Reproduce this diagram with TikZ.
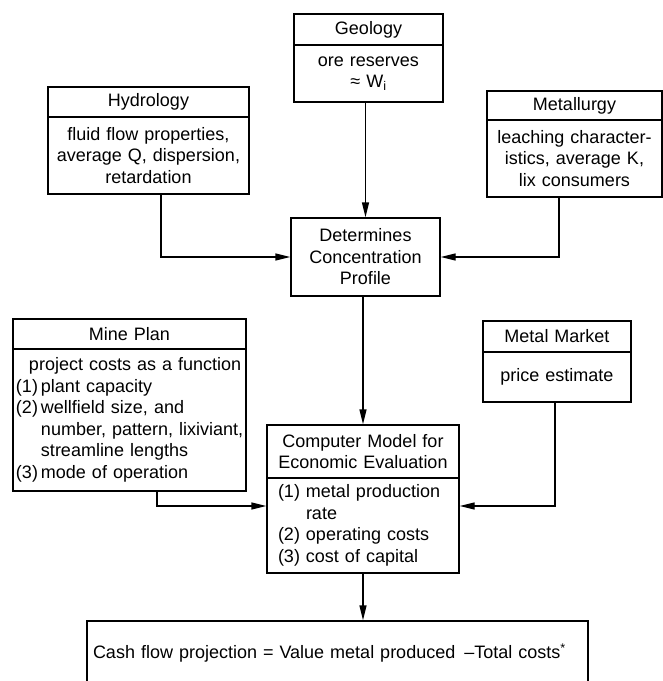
\documentclass[tikz,border=0pt]{standalone}
\usepackage{fontspec}
\setmainfont{Liberation Sans}
\usepackage{tikz}
\usetikzlibrary{positioning,arrows.meta,calc}
\newcommand{\mfFont}{\fontsize{18}{21.5}\selectfont}
\tikzset{
    mfBoxBase/.style={
        rectangle,
        draw,
        line width=1.4pt,
        inner xsep=3pt,
        inner ysep=0pt,
        font=\mfFont,
        align=center
    },
    % Box parts
    mfHead/.style={mfBoxBase},
    mfBody/.style={mfBoxBase},
    % Arrows
    mfArrowBase/.style={-{Triangle[length=15pt,width=7pt]}, line width=1.4pt}
}
\begin{document}
\begin{tikzpicture}[x=1pt,y=-1pt]
    \clip (0,0) rectangle (663,681);

    % Inputs
    \node[mfHead, text width=143pt, minimum height=31pt] (geoHead) at (368.5,29.5) {Geology};
    \node[mfBody, text width=143pt, minimum height=57pt] (geoBody) at (368.5,73.5) {ore reserves\\≈ W\textsubscript{i}\hspace*{22pt}};

    \node[mfHead, text width=195pt, minimum height=30pt] (hydHead) at (148.5,102) {Hydrology};
    \node[mfBody, text width=195pt, minimum height=77pt] (hydBody) at (148.5,155.5) {fluid flow properties,\\average Q, dispersion,\\retardation};

    \node[mfHead, text width=169pt, minimum height=29pt] (metHead) at (574.5,105.5) {Metallurgy};
    \node[mfBody, text width=169pt, minimum height=77pt] (metBody) at (574.5,158.5) {leaching character-\\istics, average K,\\lix consumers};

    \node[mfBoxBase, text width=143pt, minimum height=78pt] (detBox) at (365.5,257) {Determines\\Concentration\\Profile};

    \node[mfHead, text width=227pt, minimum height=30pt] (mineHead) at (129.5,334) {Mine Plan};
    \node[mfBody, text width=227pt, minimum height=142pt, align=left] (mineBody) at (129.5,420) {%
    \begin{tabular}{@{}l@{\hspace{3pt}}l@{}}
    \multicolumn{2}{@{\hspace{13pt}}l@{}}{project costs as a function}\\
    (1) & plant capacity\\
    (2) & wellfield size, and\\
        & number, pattern, lixiviant,\\
        & streamline lengths\\
    (3) & mode of operation
    \end{tabular}};

    \node[mfHead, text width=142pt, minimum height=31pt] (mktHead) at (557,336.5) {Metal Market};
    \node[mfBody, text width=142pt, minimum height=50pt] (mktBody) at (557,377) {price estimate};

    % Model and result
    \node[mfHead, text width=186pt, minimum height=53pt] (cmpHead) at (363,451.5) {Computer Model for\\Economic Evaluation};
    \node[mfBody, text width=186pt, minimum height=95pt, align=left] (cmpBody) at (363,525.5) {%
    \begin{tabular}{@{\hspace{8pt}}l@{\hspace{6pt}}l@{}}
    (1) & metal production\\
        & rate\\
    (2) & operating costs\\
    (3) & cost of capital
    \end{tabular}};

    \node[mfBoxBase, text width=495pt, minimum height=64pt, align=left] (cashBox) at (337.5,653) {\hspace*{3pt}Cash flow projection = Value metal produced\enspace\textendash Total costs\textsuperscript{*}};

    \draw[mfArrowBase] (detBox.north |- geoBody.south) -- (detBox.north);
    \draw[mfArrowBase] ([xshift=12.5pt]hydBody.south) |- (detBox.west);
    \draw[mfArrowBase] ([xshift=-15.5pt]metBody.south) |- (detBox.east);
    \draw[mfArrowBase] (cmpHead.north |- detBox.south) -- (cmpHead.north);
    \draw[mfArrowBase] ([xshift=27.5pt]mineBody.south) |- ([yshift=19.5pt]cmpBody.west);
    \draw[mfArrowBase] ([xshift=-2pt]mktBody.south) |- ([yshift=19.5pt]cmpBody.east);
    \draw[mfArrowBase] (cmpBody.south) -- (cmpBody.south |- cashBox.north);
\end{tikzpicture}
\end{document}
